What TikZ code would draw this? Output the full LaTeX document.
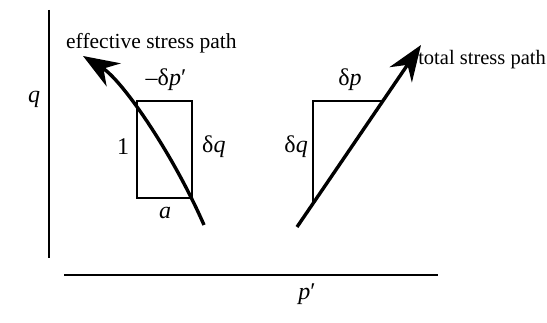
\documentclass[tikz,border=0pt]{standalone}
\usepackage{fontspec}
\setmainfont{Liberation Serif}
\usetikzlibrary{arrows.meta}
\begin{document}
\begin{tikzpicture}[x=1pt,y=-1pt,
  axis/.style={line width=1.8pt},
  thin box/.style={line width=1.4pt},
  path line/.style={line width=3.4pt,-{Stealth[length=36pt,width=27pt,inset=12pt]}},
  lbl/.style={inner sep=0pt,font=\fontsize{21.5}{24}\selectfont},
  mlbl/.style={inner sep=0pt,font=\fontsize{24}{28}\selectfont}]
\useasboundingbox (0,0) rectangle (547,323);
% axes
\coordinate (qtop) at (49,10);
\coordinate (qbot) at (49,258);
\coordinate (pl) at (64,275);
\coordinate (pr) at (438,275);
\draw[axis] (qtop) -- (qbot);
\draw[axis] (pl) -- (pr);
\node[mlbl] (qlab) at (34,99) {\textit{q}};
\node[mlbl] (plab) at (307,294) {\textit{p}′};
% effective stress path
\coordinate (eA) at (137,101);
\coordinate (eB) at (192,198);
\draw[thin box] (eA) rectangle (eB);
\coordinate (es) at (204,225);
\coordinate (ee) at (83,56);
\draw[path line] (es) .. controls (172,152) and (122,80) .. (ee);
\node[lbl,anchor=west] (elab) at (66,43) {effective stress path};
\node[mlbl] (dpe) at (166,80) {–δ\textit{p}′};
\node[mlbl] (one) at (123,147) {1};
\node[mlbl,anchor=west] (dqe) at (202,147) {δ\textit{q}};
\node[mlbl] (alab) at (165,213) {\textit{a}};
% total stress path
\coordinate (tA) at (313,101);
\coordinate (tB) at (313,204);
\coordinate (tC) at (383,101);
\coordinate (ts) at (297,227);
\coordinate (te) at (421,45);
\draw[thin box] (tB) -- (tA) -- (tC);
\draw[path line] (ts) -- (te);
\node[lbl,anchor=east,font=\fontsize{20.5}{24}\selectfont] (tlab) at (546,60) {total stress path};
\node[mlbl] (dpt) at (350,80) {δ\textit{p}};
\node[mlbl,anchor=east] (dqt) at (308,147) {δ\textit{q}};
\end{tikzpicture}
\end{document}
